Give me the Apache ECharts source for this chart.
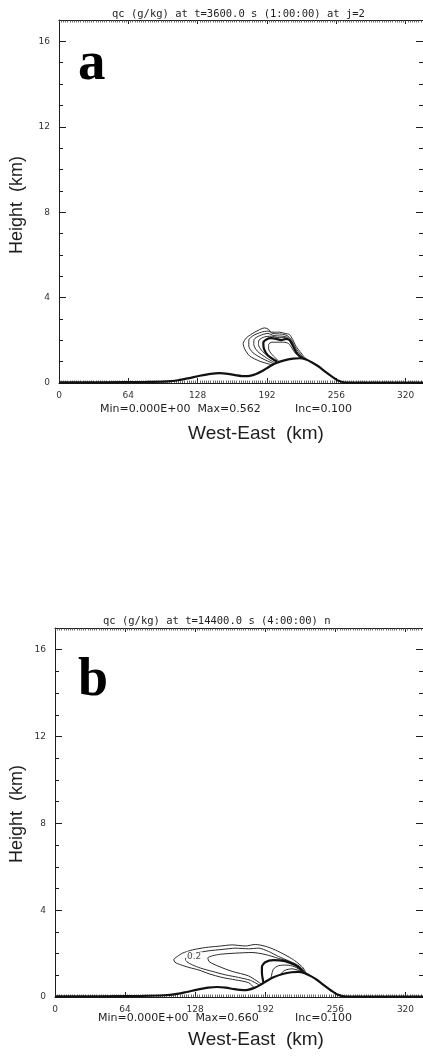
<!DOCTYPE html>
<html>
<head>
<meta charset="utf-8">
<script src="https://cdn.jsdelivr.net/npm/echarts@6/dist/echarts.min.js"></script>
<style>
  html, body { margin: 0; padding: 0; background: #fff; }
  #chart { width: 423px; height: 1056px; }
</style>
</head>
<body>
<div id="chart"></div>
<script>
// Axis tick values (km)
const xMajorKm = [0, 64, 128, 192, 256, 320];
const yMajorKm = [0, 4, 8, 12, 16];
const xDomainKm = [0, 336];
const zDomainKm = [0, 17];

// Terrain profile: [distance km, height km]
const terrainKm = [
  [0, 0.03], [40, 0.03], [80, 0.05], [100, 0.08], [110, 0.13], [120, 0.23],
  [130, 0.34], [140, 0.43], [148, 0.46], [156, 0.43], [164, 0.36], [172, 0.32],
  [176, 0.33], [182, 0.42], [188, 0.57], [194, 0.76], [200, 0.92], [208, 1.06],
  [216, 1.14], [222, 1.16], [228, 1.10], [234, 0.95], [240, 0.76], [246, 0.52],
  [252, 0.30], [258, 0.11], [266, 0.02], [280, 0.02], [336, 0.02]
];

// Cloud water (qc) contours at t = 1 h, outermost first
const qcA1 = [[196.5,0.85],[185.3,1.02],[176.1,1.26],[171.6,1.57],[170.0,1.85],[173.1,2.12],[180.7,2.38],[189.8,2.58],[193.5,2.51],[195.9,2.38],[203.5,2.38],[208.7,2.32],[212.7,2.27],[215.7,2.04],[218.8,1.72],[223.4,1.41],[227.0,1.18],[230.1,1.07]];
const qcA2 = [[197.8,0.91],[188.3,1.13],[179.2,1.41],[175.2,1.73],[175.2,2.01],[179.2,2.22],[186.8,2.38],[192.9,2.43],[197.5,2.32],[205.1,2.29],[210.6,2.22],[214.8,2.01],[217.9,1.69],[221.8,1.41],[225.8,1.19],[228.8,1.10]];
const qcA3 = [[199.0,0.95],[191.4,1.18],[183.1,1.49],[179.8,1.80],[180.1,2.04],[185.3,2.22],[192.9,2.32],[198.4,2.22],[206.6,2.19],[211.8,2.12],[215.4,1.88],[217.9,1.60],[221.2,1.35],[224.6,1.18],[227.6,1.12]];
const qcA4 = [[200.2,0.98],[193.5,1.23],[186.8,1.54],[184.1,1.80],[184.7,2.01],[189.8,2.16],[195.9,2.19],[202.0,2.13],[208.7,2.12],[213.6,1.96],[216.7,1.69],[219.7,1.41],[223.4,1.20],[226.4,1.13]];
const qcA5 = [[201.4,1.01],[192.9,1.29],[189.2,1.60],[188.6,1.88],[191.4,2.04],[195.9,2.10],[200.5,2.07],[205.1,2.01],[209.6,2.07],[212.7,2.01],[215.7,1.76],[218.8,1.44],[222.1,1.26],[225.2,1.16]];
const qcA6 = [[202.6,1.04],[196.5,1.34],[193.5,1.60],[193.5,1.80],[196.5,1.91],[202.0,1.91],[207.5,1.91],[211.8,1.85],[214.8,1.65],[217.9,1.41],[220.9,1.26],[224.0,1.17]];

// Cloud water (qc) contours at t = 4 h, outermost first
const qcB1 = [[181.4,0.45],[176.8,0.66],[164.7,0.79],[152.6,0.90],[140.6,1.07],[131.5,1.24],[122.4,1.36],[114.9,1.48],[109.5,1.60],[108.5,1.72],[111.5,1.86],[116.4,2.02],[125.5,2.17],[137.5,2.28],[149.6,2.34],[161.7,2.40],[173.8,2.35],[182.9,2.42],[191.9,2.34],[201.0,2.17],[210.1,1.94],[217.6,1.72],[222.8,1.52],[226.6,1.34],[229.0,1.12]];
const qcB2 = [[186.5,0.55],[178.3,0.77],[167.8,0.90],[155.7,1.02],[143.6,1.18],[133.0,1.33],[125.5,1.48],[120.5,1.62],[119.0,1.76],[122.5,1.90],[128.5,2.02],[140.6,2.13],[152.6,2.19],[164.7,2.25],[176.8,2.22],[185.9,2.25],[194.9,2.10],[204.0,1.87],[213.1,1.67],[220.6,1.50],[225.0,1.34],[228.2,1.14]];
const qcB3 = [[188.3,0.60],[176.8,0.97],[161.7,1.18],[149.6,1.41],[141.0,1.62],[139.5,1.80],[144.0,1.90],[151.1,1.97],[164.7,2.02],[179.8,2.05],[191.9,1.96],[204.0,1.78],[214.6,1.62],[221.5,1.45],[225.6,1.29],[227.4,1.15]];
const qcB4 = [[190.4,0.66],[189.0,1.05],[188.9,1.38],[191.9,1.60],[199.4,1.70],[210.0,1.65],[219.1,1.47],[223.6,1.31],[226.6,1.16]];
const qcB5 = [[197.3,0.90],[199.4,1.28],[204.0,1.44],[211.5,1.47],[218.5,1.40],[222.8,1.28],[225.6,1.17]];
const qcB6 = [[205.5,1.02],[209.5,1.22],[216.5,1.30],[221.5,1.24],[224.6,1.18]];

// Contour label on the 0.2 g/kg line
const labelB = [[127.0, 1.88, '0.2']];

const INK = '#1c1c1c';
const chart = echarts.init(document.getElementById('chart'), null, { renderer: 'canvas' });

const grids = [
  { left: 59, top: 20, width: 366, height: 363 },
  { left: 55, top: 628, width: 370, height: 369 }
];

function xAxesFor(g) {
  const base = { gridIndex: g, type: 'value', min: xDomainKm[0], max: xDomainKm[1], splitLine: { show: false } };
  return [
    Object.assign({}, base, {
      position: 'bottom',
      axisLine: { show: true, onZero: false, lineStyle: { color: INK, width: 1 } },
      axisTick: { show: true, inside: true, length: 5, customValues: xMajorKm, lineStyle: { color: INK, width: 1 } },
      axisLabel: { show: true, customValues: xMajorKm, margin: 8, fontSize: 9, color: '#333', fontFamily: 'DejaVu Sans' }
    }),
    Object.assign({}, base, {
      position: 'bottom', interval: 2,
      axisLine: { show: false, onZero: false },
      axisTick: { show: true, inside: true, length: 2.5, lineStyle: { color: '#444', width: 0.8 } },
      axisLabel: { show: false }
    }),
    Object.assign({}, base, {
      position: 'top',
      axisLine: { show: true, onZero: false, lineStyle: { color: INK, width: 1.2 } },
      axisTick: { show: true, inside: true, length: 4, customValues: xMajorKm, lineStyle: { color: INK, width: 1 } },
      axisLabel: { show: false }
    }),
    Object.assign({}, base, {
      position: 'top', interval: 2,
      axisLine: { show: false, onZero: false },
      axisTick: { show: true, inside: true, length: 2.5, lineStyle: { color: '#444', width: 0.8 } },
      axisLabel: { show: false }
    })
  ];
}

function yAxesFor(g) {
  const base = { gridIndex: g, type: 'value', min: zDomainKm[0], max: zDomainKm[1], splitLine: { show: false } };
  return [
    Object.assign({}, base, {
      position: 'left',
      axisLine: { show: true, onZero: false, lineStyle: { color: INK, width: 1 } },
      axisTick: { show: true, inside: true, length: 7, customValues: yMajorKm, lineStyle: { color: INK, width: 1 } },
      axisLabel: { show: true, customValues: yMajorKm, margin: 9, fontSize: 9, color: '#333', fontFamily: 'DejaVu Sans' }
    }),
    Object.assign({}, base, {
      position: 'left', interval: 1,
      axisLine: { show: false, onZero: false },
      axisTick: { show: true, inside: true, length: 4, lineStyle: { color: INK, width: 1 } },
      axisLabel: { show: false }
    }),
    Object.assign({}, base, {
      position: 'right',
      axisLine: { show: true, onZero: false, lineStyle: { color: INK, width: 1 } },
      axisTick: { show: true, inside: true, length: 7, customValues: yMajorKm, lineStyle: { color: INK, width: 1 } },
      axisLabel: { show: false }
    }),
    Object.assign({}, base, {
      position: 'right', interval: 1,
      axisLine: { show: false, onZero: false },
      axisTick: { show: true, inside: true, length: 4, lineStyle: { color: INK, width: 1 } },
      axisLabel: { show: false }
    })
  ];
}

function line(data, axisIdx, width, color, z) {
  return {
    type: 'line', xAxisIndex: axisIdx, yAxisIndex: axisIdx, data: data,
    symbol: 'none', showSymbol: false, smooth: 0.25, silent: true, z: z || 3,
    lineStyle: { width: width, color: color }
  };
}

const thin = 1, thick = 2.2;
const series = [
  line(terrainKm, 0, 2.2, '#111', 4),
  line(qcA1, 0, thin, '#2a2a2a'), line(qcA2, 0, thin, '#2a2a2a'), line(qcA3, 0, thin, '#2a2a2a'),
  line(qcA4, 0, thin, '#2a2a2a'), line(qcA5, 0, thick, '#111'), line(qcA6, 0, thin, '#2a2a2a'),
  line(terrainKm, 4, 2.2, '#111', 4),
  line(qcB1, 4, thin, '#2a2a2a'), line(qcB2, 4, thin, '#2a2a2a'), line(qcB3, 4, thin, '#2a2a2a'),
  line(qcB4, 4, thick, '#111'), line(qcB5, 4, thin, '#2a2a2a'), line(qcB6, 4, thin, '#2a2a2a'),
  {
    type: 'scatter', xAxisIndex: 4, yAxisIndex: 4, symbolSize: 0, silent: true, z: 6,
    data: labelB.map(d => ({ value: [d[0], d[1]], name: d[2] })),
    label: { show: true, position: 'inside', formatter: p => p.name, fontSize: 9, color: '#222',
             fontFamily: 'DejaVu Sans', backgroundColor: '#fff', padding: [0, 1] }
  }
];

function txt(x, y, text, font, extra) {
  return Object.assign({ type: 'text', x: x, y: y, silent: true, z: 10,
    style: { text: text, font: font, fill: '#1e1e1e', textAlign: 'left', textVerticalAlign: 'middle' } }, extra || {});
}

const graphics = [
  txt(112, 14, 'qc (g/kg) at t=3600.0 s (1:00:00) at j=2', '10.5px "DejaVu Sans Mono"'),
  txt(103, 621, 'qc (g/kg) at t=14400.0 s (4:00:00) n', '10.5px "DejaVu Sans Mono"'),
  txt(100, 409, 'Min=0.000E+00  Max=0.562', '11px "DejaVu Sans"'),
  txt(295, 409, 'Inc=0.100', '11px "DejaVu Sans"'),
  txt(98, 1018, 'Min=0.000E+00  Max=0.660', '11px "DejaVu Sans"'),
  txt(295, 1018, 'Inc=0.100', '11px "DejaVu Sans"'),
  { type: 'text', x: 256, y: 434, silent: true, z: 10,
    style: { text: 'West-East  (km)', font: '19px "Liberation Sans"', fill: '#1e1e1e', textAlign: 'center', textVerticalAlign: 'middle' } },
  { type: 'text', x: 256, y: 1040, silent: true, z: 10,
    style: { text: 'West-East  (km)', font: '19px "Liberation Sans"', fill: '#1e1e1e', textAlign: 'center', textVerticalAlign: 'middle' } },
  { type: 'text', x: 17, y: 205, rotation: Math.PI / 2, silent: true, z: 10,
    style: { text: 'Height  (km)', font: '18px "Liberation Sans"', fill: '#1e1e1e', textAlign: 'center', textVerticalAlign: 'middle' } },
  { type: 'text', x: 17, y: 814, rotation: Math.PI / 2, silent: true, z: 10,
    style: { text: 'Height  (km)', font: '18px "Liberation Sans"', fill: '#1e1e1e', textAlign: 'center', textVerticalAlign: 'middle' } },
  { type: 'text', x: 78, y: 65, silent: true, z: 10,
    style: { text: 'a', font: 'bold 55px "Liberation Serif"', fill: '#000', textAlign: 'left', textVerticalAlign: 'middle' } },
  { type: 'text', x: 78, y: 681, silent: true, z: 10,
    style: { text: 'b', font: 'bold 54px "Liberation Serif"', fill: '#000', textAlign: 'left', textVerticalAlign: 'middle' } }
];

chart.setOption({
  backgroundColor: '#fff',
  animation: false,
  grid: grids,
  xAxis: xAxesFor(0).concat(xAxesFor(1)),
  yAxis: yAxesFor(0).concat(yAxesFor(1)),
  series: series,
  graphic: graphics
});
</script>
</body>
</html>
